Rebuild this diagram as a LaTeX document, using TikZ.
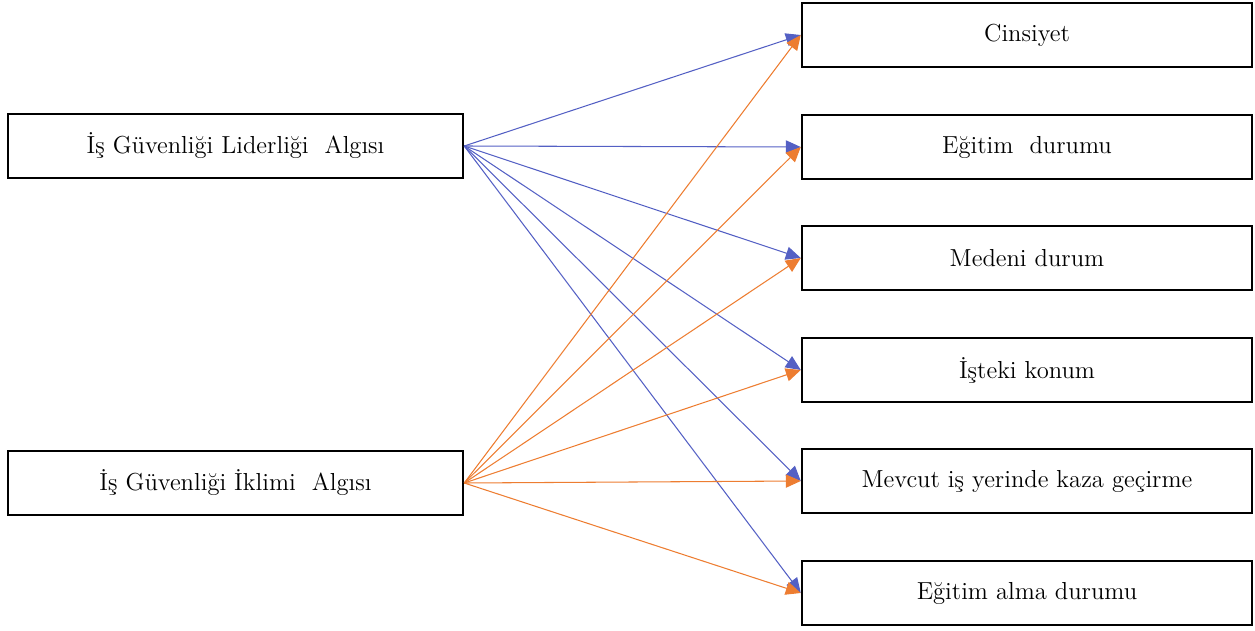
\documentclass[tikz,border=0pt]{standalone}
\usepackage{tikz}
\usetikzlibrary{arrows.meta}
\definecolor{LinkBlue}{RGB}{84,96,196}
\definecolor{LinkOrange}{RGB}{237,125,49}

\begin{document}
\begin{tikzpicture}[font=\fontsize{14}{16}\selectfont,>={Triangle[length=8.5pt,width=7.5pt]},
  kutu/.style={draw,line width=1.4pt,minimum height=1.28cm,inner sep=0pt},
  sol/.style={kutu,minimum width=9.1cm},
  sag/.style={kutu,minimum width=9.0cm},
  mavi/.style={->,LinkBlue,line width=.6pt},
  turuncu/.style={->,LinkOrange,line width=.6pt}]
\useasboundingbox (0,0) rectangle (25.1,12.6);
% sol kutular
\node[sol] (lid) at (4.71,9.68){İş Güvenliği Liderliği\ \ Algısı};
\node[sol] (ikl) at (4.71,2.94){İş Güvenliği İklimi\ \ Algısı};
% sag kutular
\node[sag] (cin) at (20.54,11.9){Cinsiyet};
\node[sag] (egt) at (20.54,9.66){Eğitim\ \ durumu};
\node[sag] (med) at (20.54,7.44){Medeni durum};
\node[sag] (kon) at (20.54,5.2){İşteki konum};
\node[sag] (kaz) at (20.54,2.98){Mevcut iş yerinde kaza geçirme};
\node[sag] (alm) at (20.54,0.74){Eğitim alma durumu};
% liderlik oklari
\draw[mavi] (lid.east)--(cin.west);
\draw[mavi] (lid.east)--(egt.west);
\draw[mavi] (lid.east)--(med.west);
\draw[mavi] (lid.east)--(kon.west);
\draw[mavi] (lid.east)--(kaz.west);
\draw[mavi] (lid.east)--(alm.west);
% iklim oklari
\draw[turuncu] (ikl.east)--(cin.west);
\draw[turuncu] (ikl.east)--(egt.west);
\draw[turuncu] (ikl.east)--(med.west);
\draw[turuncu] (ikl.east)--(kon.west);
\draw[turuncu] (ikl.east)--(kaz.west);
\draw[turuncu] (ikl.east)--(alm.west);
\end{tikzpicture}
\end{document}
